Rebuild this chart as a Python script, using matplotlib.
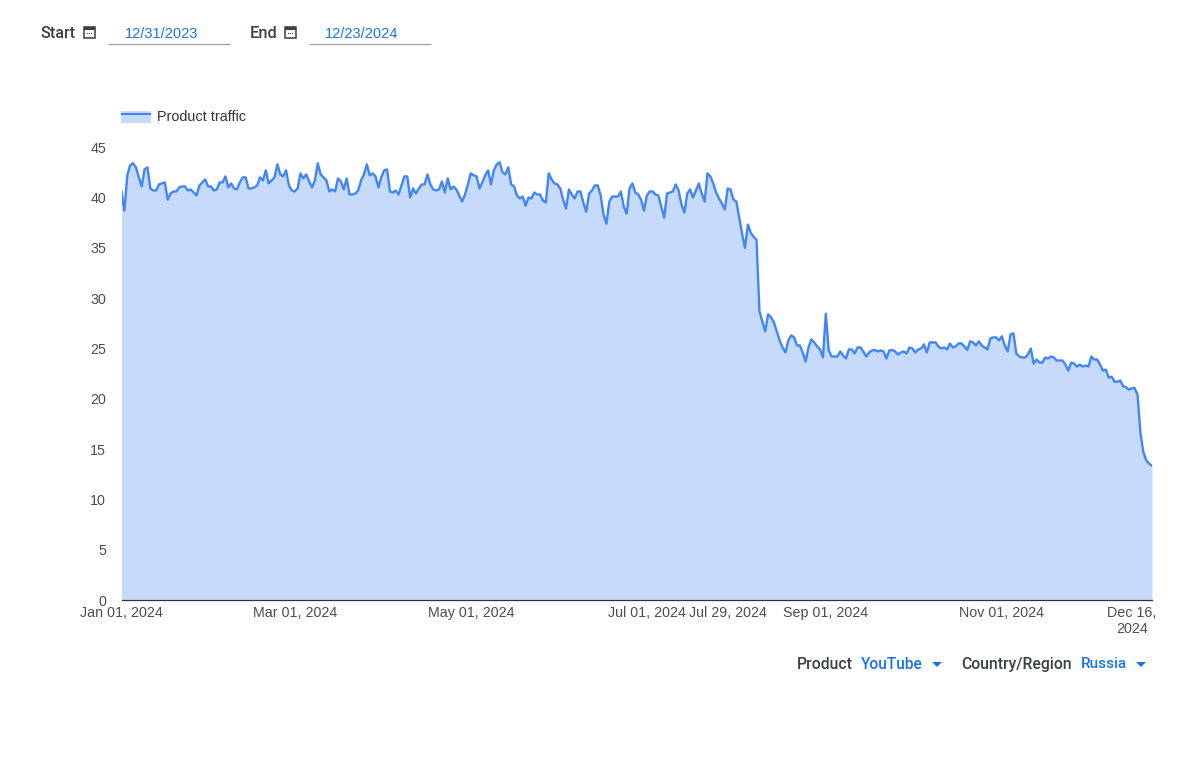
import matplotlib
matplotlib.use("Agg")
import matplotlib.pyplot as plt
import matplotlib.dates as mdates
import pandas as pd
from matplotlib.legend_handler import HandlerBase
from matplotlib.lines import Line2D
from matplotlib.patches import Rectangle, Polygon

W, H = 1201, 771

start_date = "2024-01-01"
end_date = "2024-12-23"
series_name = "Product traffic"

traffic = [
40.6,38.7,42.2,43.2,43.4,43.0,42.0,41.1,42.8,43.0,40.9,40.7,40.7,41.3,41.4,41.5,39.8,40.4,40.6,40.6,
41.0,41.1,41.1,40.7,40.8,40.5,40.2,41.2,41.5,41.8,41.1,41.1,40.7,40.8,41.5,41.5,42.1,41.0,41.4,40.9,
40.8,41.5,42.0,42.0,40.9,40.9,41.0,41.2,42.0,41.7,42.7,41.4,41.7,42.0,43.3,42.3,42.1,42.7,41.2,40.7,
40.6,40.9,42.4,41.9,42.3,41.6,41.0,41.7,43.4,42.3,42.0,41.7,40.6,40.8,40.6,41.9,41.6,40.8,41.9,40.3,
40.3,40.4,40.7,41.7,42.3,43.3,42.2,42.4,42.1,41.0,42.0,42.7,42.8,40.6,40.5,40.7,40.3,41.2,42.1,42.1,
40.0,40.9,40.4,40.9,41.3,41.3,42.3,41.3,40.8,40.7,40.8,41.6,40.5,41.9,40.8,41.1,40.8,40.2,39.6,40.3,
41.3,42.4,42.2,42.1,40.9,41.5,42.2,42.7,41.3,42.7,43.3,43.5,42.5,42.3,43.0,41.3,41.1,40.2,39.9,40.1,
39.2,40.0,39.9,40.5,40.3,40.3,39.7,39.5,42.4,41.8,41.4,41.3,40.9,39.8,38.9,40.8,40.3,39.9,40.6,40.6,
39.5,38.6,40.4,40.7,41.2,41.2,40.2,38.3,37.4,39.6,40.1,40.1,40.1,40.6,39.1,38.4,40.9,41.4,40.5,40.3,
39.8,38.7,40.2,40.6,40.6,40.3,40.2,39.1,38.0,40.4,40.5,40.6,41.3,40.7,39.3,38.5,40.4,40.8,40.0,
40.7,41.4,40.4,39.6,42.4,42.1,41.4,40.5,39.9,39.4,38.8,40.9,40.8,39.8,39.6,38.0,36.4,35.0,37.3,36.5,
36.1,35.8,28.7,27.7,26.7,28.4,28.1,27.6,26.7,25.8,25.1,24.6,25.8,26.3,26.1,25.3,25.3,24.6,23.7,25.1,
25.9,25.6,25.2,24.9,24.1,28.45,24.8,24.2,24.2,24.2,24.7,24.3,24.0,24.9,24.9,24.5,25.1,25.1,24.7,24.2,
24.6,24.8,24.85,24.7,24.8,24.7,24.0,24.8,24.85,24.7,24.4,24.6,24.7,24.5,25.1,25.0,24.6,24.9,25.0,25.4,
24.6,25.6,25.6,25.6,25.2,25.0,25.1,24.9,25.5,25.1,25.2,25.5,25.5,25.2,24.85,25.7,25.6,25.3,25.7,25.3,
25.1,24.9,26.0,26.1,26.1,25.8,26.2,25.3,24.7,26.4,26.5,24.5,24.2,24.1,24.1,24.4,25.0,23.5,23.9,23.6,
23.6,24.1,24.0,24.2,24.1,23.8,23.8,23.8,23.4,22.8,23.6,23.5,23.2,23.4,23.2,23.3,23.2,24.2,23.9,23.9,
23.4,22.8,22.9,22.1,22.2,21.7,21.7,21.8,21.25,21.15,20.9,21.05,21.05,20.4,16.6,14.7,13.9,13.55,13.35,
]

x_tick_dates = ["2024-01-01", "2024-03-01", "2024-05-01", "2024-07-01",
                "2024-07-29", "2024-09-01", "2024-11-01", "2024-12-16"]
x_tick_labels = ["Jan 01, 2024", "Mar 01, 2024", "May 01, 2024", "Jul 01, 2024",
                 "Jul 29, 2024", "Sep 01, 2024", "Nov 01, 2024", "Dec 16,\n2024"]
y_ticks = [0, 5, 10, 15, 20, 25, 30, 35, 40, 45]

LINE = "#4285f4"
FILL = "#c6dafc"
BLUE = "#1a73e8"
GREY = "#4d4d4d"
DARK = "#3c4043"

dates = pd.date_range(start_date, end_date, freq="D")[:len(traffic)]

fig = plt.figure(figsize=(W / 100, H / 100), dpi=100, facecolor="white")


def fx(px):
    return px / W


def fy(py):
    return 1 - py / H


ax = fig.add_axes([fx(121.5), fy(600), (1152 - 121.5) / W, (600 - 147.2) / H])
ax.fill_between(dates, traffic, 0, color=FILL, lw=0, zorder=1)
ax.plot(dates, traffic, color=LINE, lw=1.7, solid_joinstyle="round", zorder=2, label=series_name)
ax.set_xlim(dates[0], dates[-1])
ax.set_ylim(0, 45)
ax.set_yticks(y_ticks)
ax.set_xticks(mdates.date2num(pd.to_datetime(x_tick_dates)))
ax.set_xticklabels(x_tick_labels, linespacing=1.15)
ax.tick_params(axis="both", length=0, labelsize=10.3, labelcolor=GREY, labelfontfamily="Liberation Sans")
ax.tick_params(axis="x", pad=4.5)
ax.tick_params(axis="y", pad=11)
for s in ["top", "right", "left"]:
    ax.spines[s].set_visible(False)
ax.spines["bottom"].set_color("#333333")
ax.spines["bottom"].set_linewidth(0.9)


class AreaLineHandler(HandlerBase):
    def create_artists(self, legend, orig, xd, yd, width, height, fontsize, trans):
        rect = Rectangle((-xd, -yd), width, height * 0.9, fc=FILL, ec="none", transform=trans)
        ln = Line2D([-xd, -xd + width], [-yd + height * 0.68] * 2, color=LINE, lw=1.5,
                    solid_capstyle="butt", transform=trans)
        return [rect, ln]


proxy = Line2D([], [], color=LINE)
ax.legend([proxy], [series_name], handler_map={proxy: AreaLineHandler()},
          loc="upper left", bbox_to_anchor=(fx(121), fy(110)), bbox_transform=fig.transFigure,
          frameon=False, borderpad=0, borderaxespad=0, handlelength=2.1, handleheight=1.0,
          handletextpad=0.4, labelcolor="#333333",
          prop={"family": "Liberation Sans", "size": 10.4})


def label(px, py, s, color=DARK, family="Roboto", size=10.4, weight="medium", ha="left"):
    fig.text(fx(px), fy(py), s, color=color, family=family, fontsize=size, fontweight=weight,
             ha=ha, va="center")


def calendar(px, py):
    fig.add_artist(Rectangle((fx(px), fy(py + 12)), 11 / W, 11 / H, transform=fig.transFigure,
                             fc="white", ec=DARK, lw=1.1))
    fig.add_artist(Rectangle((fx(px), fy(py + 4)), 11 / W, 3 / H, transform=fig.transFigure,
                             fc=DARK, ec="none"))
    for dx in (2, 8):
        fig.add_artist(Rectangle((fx(px + dx), fy(py + 2)), 1 / W, 2 / H, transform=fig.transFigure,
                                 fc=DARK, ec="none"))
    for dx in (3, 5, 7):
        fig.add_artist(Rectangle((fx(px + dx), fy(py + 8)), 1.2 / W, 1.2 / H, transform=fig.transFigure,
                                 fc=DARK, ec="none"))


def underline(x0, x1, py):
    fig.add_artist(Line2D([fx(x0), fx(x1)], [fy(py), fy(py)], transform=fig.transFigure,
                          color="#9e9e9e", lw=0.9, solid_capstyle="butt"))


def caret(px, py):
    fig.add_artist(Polygon([(fx(px), fy(py)), (fx(px + 10), fy(py)), (fx(px + 5), fy(py + 5))],
                           closed=True, transform=fig.transFigure, fc=BLUE, ec="none"))


label(40.5, 33, "Start", size=11.6)
calendar(84, 26)
label(125, 33.5, "12/31/2023", color=BLUE, family="Liberation Sans", size=10.5, weight="normal")
underline(108, 230, 44)

label(250, 33, "End", size=11.8)
calendar(285, 26)
label(325, 33.5, "12/23/2024", color=BLUE, family="Liberation Sans", size=10.5, weight="normal")
underline(309, 431, 44)

label(797, 664.5, "Product", size=11.3)
label(861, 664.5, "YouTube", color=BLUE, size=11.2)
caret(932, 662)
label(961.5, 664.5, "Country/Region", size=11.3)
label(1081, 664.5, "Russia", color=BLUE, size=11)
caret(1136, 662)

fig.savefig("out.png", dpi=100, facecolor="white")
